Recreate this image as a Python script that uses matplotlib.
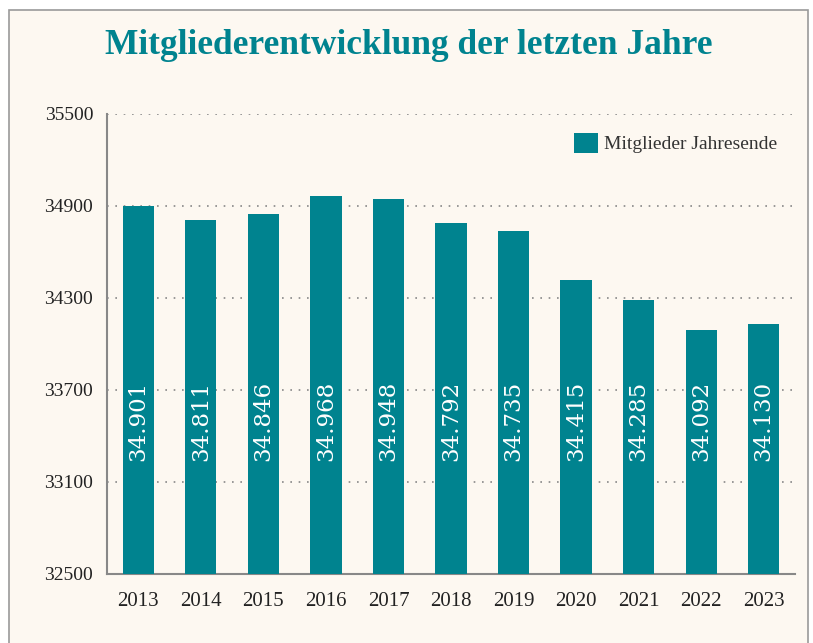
import matplotlib.pyplot as plt
from matplotlib.patches import Rectangle

# Data
years = ["2013", "2014", "2015", "2016", "2017", "2018", "2019", "2020", "2021", "2022", "2023"]
members = [34901, 34811, 34846, 34968, 34948, 34792, 34735, 34415, 34285, 34092, 34130]
yticks = [32500, 33100, 33700, 34300, 34900, 35500]

teal = "#00838f"
bg = "#fdf8f1"

fig = plt.figure(figsize=(8.13, 6.43), dpi=100)
fig.patch.set_facecolor("white")
# panel background with thin grey frame
fig.patches.append(Rectangle((9 / 813, -0.05), (808 - 9) / 813, 1.05 - 10 / 643,
                             transform=fig.transFigure, facecolor=bg,
                             edgecolor="#9a9a9a", linewidth=1.2, zorder=-10))

ax = fig.add_axes([107 / 813, 1 - 574 / 643, (795 - 107) / 813, (574 - 114) / 643])
ax.set_facecolor(bg)

x = range(len(years))
bars = ax.bar(x, members, width=0.5, color=teal, label="Mitglieder Jahresende", zorder=3)

# rotated value labels inside the bars
for xi, v in zip(x, members):
    txt = f"{v:,}".replace(",", ".")
    ax.text(xi, 33500, txt, rotation=90, ha="center", va="center",
            color="white", fontsize=16.5, family="DejaVu Serif", zorder=4)

ax.set_xlim(-0.5, len(years) - 0.5)
ax.set_ylim(32500, 35500)
ax.set_yticks(yticks)
ax.set_xticks(list(x))
ax.set_xticklabels(years)
ax.tick_params(axis="both", length=0, colors="#222222")
ax.tick_params(axis="y", pad=10)
ax.tick_params(axis="x", pad=13)
for lab in ax.get_yticklabels():
    lab.set_family("Liberation Serif")
    lab.set_fontsize(14)
for lab in ax.get_xticklabels():
    lab.set_family("Liberation Serif")
    lab.set_fontsize(15)

ax.yaxis.grid(True, linestyle=(0, (1, 4)), color="#888888", linewidth=1.2, zorder=0)
ax.spines["top"].set_visible(False)
ax.spines["right"].set_visible(False)
ax.spines["left"].set_color("#888888")
ax.spines["bottom"].set_color("#888888")
ax.spines["left"].set_linewidth(1.5)
ax.spines["bottom"].set_linewidth(1.5)

leg = ax.legend(loc="upper right", frameon=False, handlelength=1.2, handleheight=1.2,
                handletextpad=0.35, bbox_to_anchor=(1.0, 0.997),
                prop={"family": "Liberation Serif", "size": 14})
for t in leg.get_texts():
    t.set_color("#333333")

fig.text(0.503, 1 - 46 / 643, "Mitgliederentwicklung der letzten Jahre", ha="center", va="center",
         color=teal, fontsize=25.5, fontweight="bold", family="Liberation Serif")

fig.savefig("out.png", dpi=100, facecolor=fig.get_facecolor())
